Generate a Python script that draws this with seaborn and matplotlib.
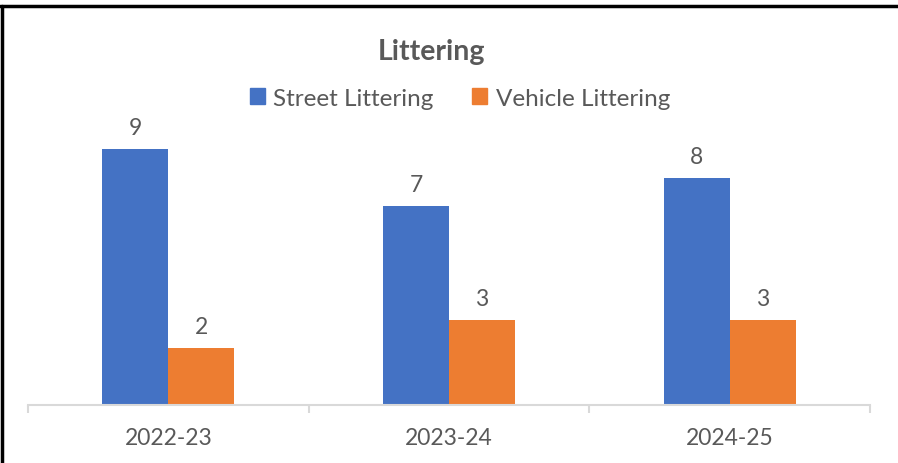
import pandas as pd
import seaborn as sns
import matplotlib.pyplot as plt
from matplotlib.lines import Line2D
from matplotlib.patches import Patch

# data
years = ['2022-23', '2023-24', '2024-25']
street = [9, 7, 8]
vehicle = [2, 3, 3]
series = ['Street Littering', 'Vehicle Littering']

df = pd.DataFrame({
    'Year': years * 2,
    'Count': street + vehicle,
    'Type': [series[0]] * 3 + [series[1]] * 3
})

colors = ['#4472C4', '#ED7D31']
text_color = '#595959'

sns.set_style('white')
plt.rcParams['font.family'] = ['Lato', 'DejaVu Sans']

fig = plt.figure(figsize=(8.98, 4.64), dpi=100)
ax = fig.add_axes([28 / 898, 1 - 406 / 464, 842 / 898, 284 / 464])

sns.barplot(
    data=df,
    x='Year',
    y='Count',
    hue='Type',
    palette=colors,
    width=0.47,
    saturation=1,
    linewidth=0,
    legend=False,
    ax=ax
)

for c in ax.containers:
    ax.bar_label(c, padding=8, fontsize=16.5, color=text_color)

ax.set_ylim(0, 10)
ax.set_xlim(-0.5, 2.5)
ax.set_xlabel('')
ax.set_ylabel('')
ax.set_yticks([])
for s in ['top', 'right', 'left']:
    ax.spines[s].set_visible(False)
ax.spines['bottom'].set_color('#D9D9D9')
ax.spines['bottom'].set_linewidth(1.5)

ax.set_xticks([0, 1, 2])
ax.set_xticklabels(years)
ax.tick_params(axis='x', which='major', length=0, pad=16, labelsize=16.5, labelcolor=text_color)
ax.set_xticks([-0.5, 0.5, 1.5, 2.5], minor=True)
ax.tick_params(axis='x', which='minor', length=6, width=1.5, color='#D9D9D9', direction='out', bottom=True)

fig.text(431 / 898, 1 - 52 / 464, 'Littering', ha='center', va='center',
         fontsize=20.5, fontweight='bold', color=text_color)

handles = [Patch(color=colors[0]), Patch(color=colors[1])]
fig.legend(handles, series, loc='center', bbox_to_anchor=(460 / 898, 1 - 99 / 464),
           ncol=2, frameon=False, fontsize=17.5, labelcolor=text_color,
           handlelength=0.6, handleheight=0.6, handletextpad=0.35, columnspacing=1.6)

# outer border (top and left visible in the reference)
fig.add_artist(Line2D([0, 1], [1 - 7 / 464, 1 - 7 / 464], color='black', linewidth=2.5,
                      transform=fig.transFigure))
fig.add_artist(Line2D([1.5 / 898, 1.5 / 898], [0, 1 - 7 / 464], color='black', linewidth=2.5,
                      transform=fig.transFigure))

plt.savefig('out.png', dpi=100, facecolor='white')
